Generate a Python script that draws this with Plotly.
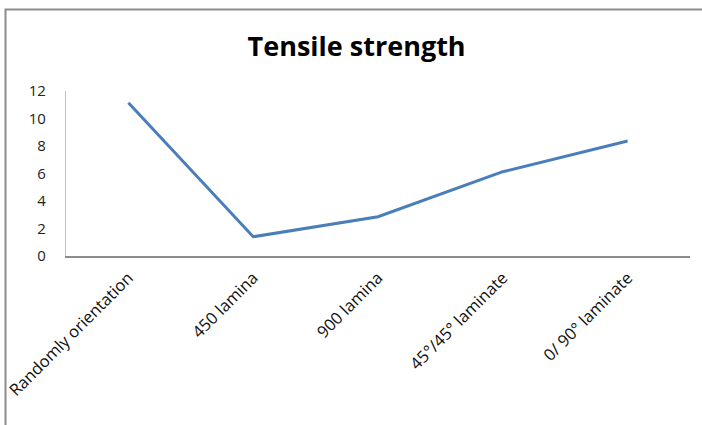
import plotly.graph_objects as go

categories = ["Randomly orientation", "450 lamina", "900 lamina", "45°/45° laminate", "0/ 90° laminate"]
tensile = [11.15, 1.4, 2.86, 6.13, 8.36]
y_ticks = [0, 2, 4, 6, 8, 10, 12]

W, H = 702, 425
L, R, T, B = 66, 12, 91, 169
pw, ph = W - L - R, H - T - B

def px_x(x):
    return (x - L) / pw

def px_y(y):
    return (H - B - y) / ph

FONT = "Open Sans, Lato, sans-serif"

fig = go.Figure()
fig.add_trace(go.Scatter(
    x=categories, y=tensile, mode="lines",
    line=dict(color="#4A7EBB", width=3),
    showlegend=False,
))

fig.update_layout(
    width=W, height=H,
    margin=dict(l=L, r=R, t=T, b=B, autoexpand=False),
    paper_bgcolor="white", plot_bgcolor="white",
    font=dict(family=FONT, color="#222222"),
    title=dict(text="<b>Tensile strength</b>", x=0.508, xanchor="center",
               y=1 - 47 / H, yanchor="middle",
               font=dict(size=27, color="#000000", family=FONT)),
    xaxis=dict(
        type="category", range=[-0.5, 4.5], automargin=False,
        showline=True, linecolor="#8c8c8c", linewidth=1.5,
        showgrid=False, zeroline=False,
        tickangle=-45, tickfont=dict(size=16.5, color="#111111", family=FONT),
        ticks="", ticklabelstandoff=4,
    ),
    yaxis=dict(
        range=[0, 12], tickvals=y_ticks, automargin=False,
        showline=True, linecolor="#bfbfbf", linewidth=1.2,
        showgrid=False, zeroline=False,
        tickfont=dict(size=15, color="#222222", family=FONT),
        ticks="", ticklabelstandoff=16,
    ),
    shapes=[dict(
        type="rect", xref="paper", yref="paper",
        x0=px_x(5.5), x1=px_x(W + 20), y0=px_y(H + 20), y1=px_y(9.5),
        line=dict(color="#8c8c8c", width=2), fillcolor="rgba(0,0,0,0)",
        layer="below",
    )],
)

fig.write_html("out.html")
